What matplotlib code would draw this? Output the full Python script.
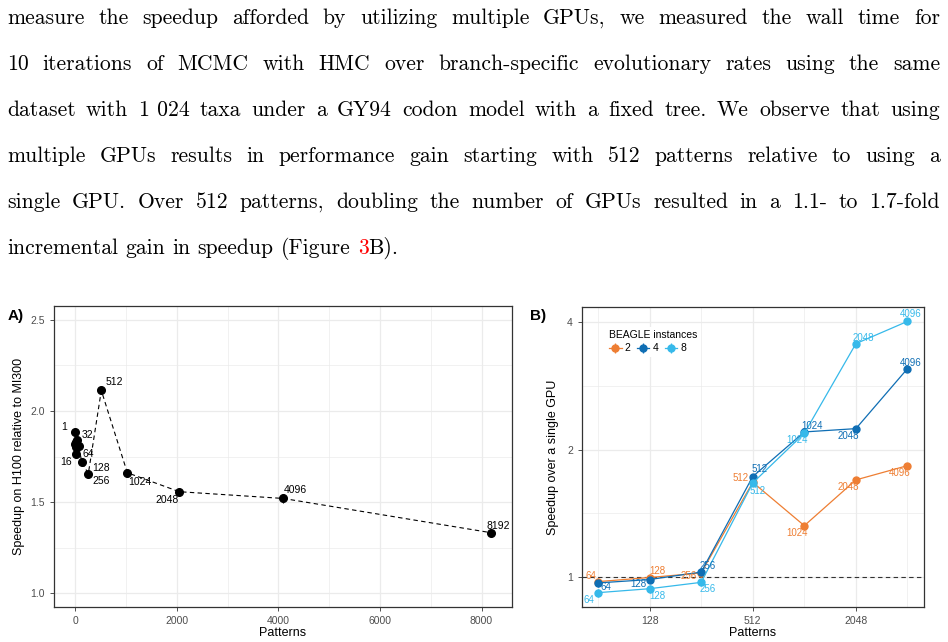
import numpy as np
import matplotlib
matplotlib.use('Agg')
import matplotlib.pyplot as plt
from matplotlib.ticker import FixedLocator, NullFormatter, FixedFormatter

plt.rcParams['font.family'] = ['Liberation Sans', 'DejaVu Sans']

# paragraph above the figure ("~" = unbreakable space)
paragraph = [
    'measure the speedup afforded by utilizing multiple GPUs, we measured the wall time for',
    '10 iterations of MCMC with HMC over branch-specific evolutionary rates using the same',
    'dataset with 1~024 taxa under a GY94 codon model with a fixed tree. We observe that using',
    'multiple GPUs results in performance gain starting with 512 patterns relative to using a',
    'single GPU. Over 512 patterns, doubling the number of GPUs resulted in a 1.1- to 1.7-fold',
    'incremental gain in speedup (Figure 3B).',
]

# panel A: H100 vs MI300
patterns_a = [1, 2, 4, 8, 16, 32, 64, 128, 256, 512, 1024, 2048, 4096, 8192]
speedup_a = [1.883, 1.82, 1.83, 1.80, 1.765, 1.84, 1.81, 1.718, 1.656, 2.112, 1.661, 1.557, 1.52, 1.332]
err_a = [0.01, 0.01, 0.01, 0.01, 0.01, 0.01, 0.01, 0.01, 0.01, 0.015, 0.01, 0.01, 0.025, 0.01]
labels_a = ['1', '', '', '', '16', '32', '64', '128', '256', '512', '1024', '2048', '4096', '8192']
offsets_a = [(-11, 5), (0, 0), (0, 0), (0, 0), (-10, -8), (11, 5), (10, -8), (19, -6),
             (13, -7), (13, 8), (13, -9), (-12, -8), (12, 8), (7, 7)]

# panel B: multi-GPU speedup
patterns_b = [64, 128, 256, 512, 1024, 2048, 4096]
instances = ['2', '4', '8']
speedup_2 = [0.975, 0.997, 1.022, 1.674, 1.322, 1.696, 1.833]
speedup_4 = [0.968, 0.986, 1.027, 1.727, 2.202, 2.242, 3.108]
speedup_8 = [0.918, 0.938, 0.971, 1.668, 2.186, 3.561, 4.02]
err_2 = [0.02, 0.02, 0.02, 0.02, 0.02, 0.02, 0.02]
err_4 = [0.02, 0.02, 0.02, 0.02, 0.02, 0.02, 0.02]
err_8 = [0.02, 0.02, 0.02, 0.02, 0.02, 0.02, 0.02]
colors_b = ['#EE7E33', '#0F6EB4', '#36B9EA']
offsets_b = [
    [(-7, 6), (8, 7), (-12, -3), (-12, 4), (-7, -7), (-8, -7), (-8, -7)],
    [(8, -4), (-11, -4), (7, 6), (7, 8), (8, 6), (-8, -7), (3, 6)],
    [(-9, -7), (8, -7), (7, -7), (5, -8), (-7, -7), (7, 6), (3, 7)],
]

fig = plt.figure(figsize=(9.48, 6.42), dpi=100)
renderer = fig.canvas.get_renderer()
W, H = fig.bbox.width, fig.bbox.height

# ---- justified paragraph ----
x_left, x_right = 7, 940
last_width = 391
baselines = [24, 70, 116, 162, 208, 254]


def measure(s, size):
    t = fig.text(0, 0, s, fontsize=size, family='cmr10')
    w = t.get_window_extent(renderer).width
    t.remove()
    return w


size = 10 * last_width / measure(paragraph[-1], 10)
space = measure('x x', size) - measure('xx', size)

for i, line in enumerate(paragraph):
    words = line.split(' ')
    ybase = 1 - baselines[i] / H
    widths = [measure(w.replace('~', ' '), size) for w in words]
    if i < len(paragraph) - 1:
        gap = (x_right - x_left - sum(widths)) / (len(words) - 1)
    else:
        gap = space
    x = x_left
    for w, wd in zip(words, widths):
        if w == '(Figure':
            fig.text(x / W, ybase, w, fontsize=size, family='cmr10', va='baseline')
        elif w == '3B).':
            w3 = measure('3', size)
            fig.text(x / W, ybase, '3', fontsize=size, family='cmr10', va='baseline', color='red')
            fig.text((x + w3) / W, ybase, 'B).', fontsize=size, family='cmr10', va='baseline')
        else:
            fig.text(x / W, ybase, w.replace('~', ' '), fontsize=size, family='cmr10', va='baseline')
        x += wd + gap


def style_axes(ax):
    for s in ax.spines.values():
        s.set_color('#333333')
        s.set_linewidth(0.9)
    ax.set_facecolor('white')
    ax.tick_params(which='major', labelsize=7.5, labelcolor='#4D4D4D', length=3,
                   color='#333333', width=0.6)
    ax.tick_params(which='minor', length=0)
    ax.grid(which='major', color='#EBEBEB', linewidth=0.9)
    ax.grid(which='minor', color='#EBEBEB', linewidth=0.5)
    ax.set_axisbelow(True)


# ---- panel A ----
axA = fig.add_axes([54 / W, 1 - 607 / H, (512 - 54) / W, (607 - 306) / H])
style_axes(axA)
axA.plot(patterns_a, speedup_a, color='black', linestyle=(0, (4, 3)), linewidth=0.8)
axA.errorbar(patterns_a, speedup_a, yerr=err_a, fmt='o', color='black', markersize=5.5,
             elinewidth=0.8, capsize=0)
for x, y, lab, off in zip(patterns_a, speedup_a, labels_a, offsets_a):
    if lab:
        axA.annotate(lab, (x, y), xytext=off, textcoords='offset pixels',
                     ha='center', va='center', fontsize=7.5, color='black')
axA.set_xlim(-420, 8600)
axA.set_ylim(0.925, 2.575)
axA.xaxis.set_major_locator(FixedLocator([0, 2000, 4000, 6000, 8000]))
axA.xaxis.set_minor_locator(FixedLocator([1000, 3000, 5000, 7000]))
axA.yaxis.set_major_locator(FixedLocator([1.0, 1.5, 2.0, 2.5]))
axA.yaxis.set_minor_locator(FixedLocator([1.25, 1.75, 2.25]))
axA.set_xlabel('Patterns', fontsize=9, labelpad=1)
axA.set_ylabel('Speedup on H100 relative to MI300', fontsize=9, labelpad=4)
fig.text(8 / W, 1 - 320 / H, 'A)', fontsize=11, fontweight='bold')

# ---- panel B ----
axB = fig.add_axes([582 / W, 1 - 607 / H, (924 - 582) / W, (607 - 307) / H])
style_axes(axB)
axB.set_xscale('log', base=2)
axB.set_yscale('log', base=2)
axB.axhline(1, color='#333333', linestyle=(0, (4, 3)), linewidth=0.8, zorder=1)
series_b = [speedup_2, speedup_4, speedup_8]
errs_b = [err_2, err_4, err_8]
for name, ys, es, col, offs in zip(instances, series_b, errs_b, colors_b, offsets_b):
    axB.errorbar(patterns_b, ys, yerr=es, fmt='-o', color=col, markersize=5,
                 linewidth=0.9, elinewidth=0.9, capsize=0, label=name, zorder=3)
    for x, y, off in zip(patterns_b, ys, offs):
        axB.annotate(str(x), (x, y), xytext=off, textcoords='offset pixels',
                     ha='center', va='center', fontsize=7, color=col, zorder=4)
axB.set_xlim(2 ** 5.69, 2 ** 12.32)
axB.set_ylim(2 ** -0.236, 2 ** 2.12)
axB.xaxis.set_major_locator(FixedLocator([128, 512, 2048]))
axB.xaxis.set_major_formatter(FixedFormatter(['128', '512', '2048']))
axB.xaxis.set_minor_locator(FixedLocator([64, 256, 1024, 4096]))
axB.xaxis.set_minor_formatter(NullFormatter())
axB.yaxis.set_major_locator(FixedLocator([1, 2, 4]))
axB.yaxis.set_major_formatter(FixedFormatter(['1', '2', '4']))
axB.yaxis.set_minor_locator(FixedLocator([2 ** 0.5, 2 ** 1.5]))
axB.yaxis.set_minor_formatter(NullFormatter())
axB.set_xlabel('Patterns', fontsize=9, labelpad=1)
axB.set_ylabel('Speedup over a single GPU', fontsize=9, labelpad=6)
leg = axB.legend(title='BEAGLE instances', loc='upper left', bbox_to_anchor=(0.055, 0.95),
                 ncol=3, fontsize=7.5, title_fontsize=7.5, alignment='left',
                 frameon=True, facecolor='white', edgecolor='none', framealpha=1,
                 handlelength=1.2, columnspacing=0.6, handletextpad=0.3,
                 borderpad=0.3, labelspacing=0.3)
fig.text(530 / W, 1 - 320 / H, 'B)', fontsize=11, fontweight='bold')

fig.savefig('out.png', dpi=100)
